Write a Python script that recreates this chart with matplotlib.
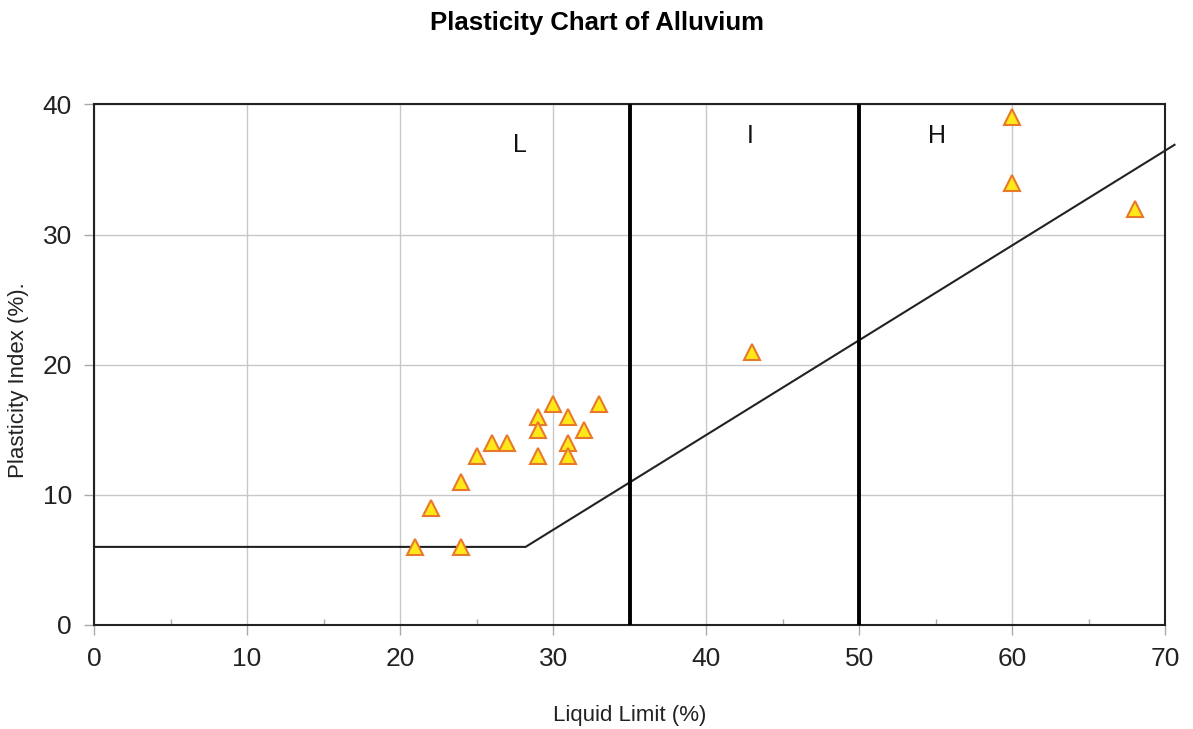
import matplotlib
matplotlib.use("Agg")
import matplotlib.pyplot as plt
import numpy as np

plt.rcParams['font.family'] = ['Liberation Sans', 'DejaVu Sans']

liquid_limit = [21, 24, 22, 24, 25, 26, 27, 29, 29, 29, 30, 31, 31, 31, 32, 33, 43, 60, 60, 68]
plasticity_index = [6, 6, 9, 11, 13, 14, 14, 16, 15, 13, 17, 16, 14, 13, 15, 17, 21, 39, 34, 32]

aline_x = [0, 28.2, 70.6]
aline_y = [6, 6, 36.9]
zone_bounds = [35, 50]
zone_labels = ["L", "I", "H"]
zone_label_x = [27.8, 42.9, 55.1]
zone_label_y = [36.9, 37.6, 37.6]

fig = plt.figure(figsize=(11.93, 7.29), dpi=100)
ax = fig.add_axes([0.0788, 0.1427, 0.898, 0.714])

ax.set_xlim(0, 70)
ax.set_ylim(0, 40)
ax.set_xticks(np.arange(0, 71, 10))
ax.set_yticks(np.arange(0, 41, 10))
ax.set_xticks(np.arange(5, 70, 10), minor=True)
ax.grid(True, which='major', color='#c8c8c8', linewidth=1.0)
ax.set_axisbelow(True)

ax.plot(aline_x, aline_y, color='#222222', linewidth=1.5, clip_on=False, zorder=3)
for xb in zone_bounds:
    ax.axvline(xb, color='black', linewidth=2.8, zorder=3)
for lab, lx, ly in zip(zone_labels, zone_label_x, zone_label_y):
    ax.text(lx, ly, lab, fontsize=18, ha='center', va='center', color='#111111')

ax.plot(liquid_limit, plasticity_index, linestyle='none', marker='^', markersize=12,
        markerfacecolor='#FFE81A', markeredgecolor='#E8792B', markeredgewidth=1.5,
        zorder=5, clip_on=False)

for s in ax.spines.values():
    s.set_linewidth(1.5)
    s.set_color('#222222')

ax.tick_params(axis='both', which='major', direction='out', length=7, width=1, color='#aaaaaa',
               labelsize=19, pad=9, labelcolor='#222222')
ax.tick_params(axis='x', which='minor', direction='in', length=4, width=1, color='#aaaaaa')

ax.set_xlabel('Liquid Limit (%)', fontsize=16, labelpad=24, color='#222222')
ax.set_ylabel('Plasticity Index (%).', fontsize=16, color='#222222')
ax.yaxis.set_label_coords(-0.061, 0.47)
fig.suptitle('Plasticity Chart of Alluvium', fontsize=18.5, fontweight='bold', y=0.985)

fig.savefig('out.png', dpi=100)
